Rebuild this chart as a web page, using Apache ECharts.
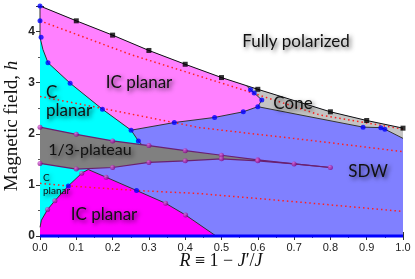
<!DOCTYPE html>
<html><head><meta charset="utf-8">
<script src="https://cdn.jsdelivr.net/npm/echarts@6/dist/echarts.min.js"></script>
<style>html,body{margin:0;padding:0;background:#fff}#c{width:415px;height:279px}</style>
</head><body><div id="c"></div>
<script>
// ---- data ----
const xTickLabels = ['0.0','0.1','0.2','0.3','0.4','0.5','0.6','0.7','0.8','0.9','1.0'];
const yTickLabels = ['0','1','2','3','4'];

// saturation field (boundary to fully polarized)
const saturation = [[0,4.5],[0.1,4.21],[0.2,3.93],[0.3,3.63],[0.4,3.36],[0.5,3.10],[0.6,2.87],[0.8,2.43],[0.9,2.26],[1.0,2.11]];
const saturationPoints = [[0.1,4.21],[0.2,3.93],[0.3,3.63],[0.4,3.36],[0.5,3.10],[0.6,2.87],[0.8,2.43],[0.9,2.26],[1.0,2.11]];

// upper IC planar boundaries
const icUpperTop = [[0,4.5],[0.1,4.21],[0.2,3.93],[0.3,3.63],[0.4,3.36],[0.5,3.10],[0.569,2.94]];
const icConeLine = [[0.569,2.94],[0.58,2.86],[0.59,2.80],[0.611,2.66],[0.60,2.53]];
const icSdwLine = [[0.60,2.53],[0.56,2.43],[0.481,2.32],[0.37,2.22],[0.251,2.07]];
const icCLine = [[0.251,2.07],[0.172,2.48],[0.083,2.99],[0.022,3.39],[0.008,3.65],[0,3.89]];
const cSdwLine = [[0.251,2.07],[0.271,1.86],[0.28,1.79]];
const leftEdgeTop = [[0,4.5],[0,3.89]];

// cone / SDW
const coneSdwLine = [[0.60,2.53],[0.89,2.13],[0.939,2.12],[0.95,2.09],[1.0,1.91]];

// 1/3 plateau
const plateauUpper = [[0,2.13],[0.1,1.99],[0.2,1.86],[0.3,1.77],[0.4,1.67],[0.5,1.58],[0.6,1.49],[0.7,1.41],[0.8,1.34]];
const plateauLower = [[0,1.42],[0.1,1.31],[0.2,1.34],[0.3,1.44],[0.4,1.47],[0.5,1.51],[0.6,1.47],[0.7,1.41],[0.8,1.34]];

// lower IC planar
const icLowerLeft = [[0,0.17],[0.004,0.31],[0.021,0.52],[0.041,0.69],[0.078,0.98],[0.115,1.23],[0.133,1.30]];
const icLowerRight = [[0.133,1.30],[0.182,1.15],[0.266,0.89],[0.346,0.64],[0.401,0.41],[0.485,0]];

// red dotted guide lines
const redUpper = [[0,4.21],[0.25,3.55],[0.55,2.88],[0.77,2.37],[1.0,2.09]];
const redMiddle = [[0,2.73],[0.17,2.50],[0.44,2.12],[0.77,1.85],[1.0,1.65]];
const redLower = [[0,1.03],[0.078,0.98],[0.266,0.89],[0.44,0.83],[0.72,0.66],[1.0,0.48]];

// markers
const bluePoints = [[0,4.5],[0,4.21],[0.003,3.89],[0.022,3.39],[0.083,2.99],[0.172,2.48],[0.251,2.07],[0.271,1.86],[0.37,2.22],[0.481,2.32],[0.56,2.43],[0.60,2.53],[0.611,2.66],[0.59,2.80],[0.58,2.86],[0.89,2.13],[0.939,2.12],[0.95,2.09],[0.078,0.98],[0.266,0.89]];
const purplePoints = [[0,2.13],[0.1,1.99],[0.2,1.86],[0.3,1.77],[0.4,1.67],[0.5,1.58],[0.6,1.49],[0.7,1.41],[0.8,1.34],
  [0,1.42],[0.1,1.31],[0.2,1.34],[0.3,1.44],[0.4,1.47],[0.5,1.51],[0.6,1.47],
  [0.021,0.52],[0.041,0.69],[0.115,1.23],[0.182,1.15],[0.346,0.64],[0.401,0.41]];
const zeroField = [[0,0],[1,0]];

// ---- region polygons built from the boundaries ----
const rev = a => a.slice().reverse();
const sdwRegion = [[0,0],[1,0]].concat(rev(saturation));
const icUpperRegion = icUpperTop.concat(icConeLine.slice(1), icSdwLine.slice(1), icCLine.slice(1));
const coneRegion = [[0.569,2.94]].concat(saturation.filter(p=>p[0]>0.569), rev(coneSdwLine), rev(icConeLine).slice(1));
const cUpperRegion = rev(icCLine).concat(cSdwLine.slice(1), rev(plateauUpper.filter(p=>p[0]<0.28)));
const plateauRegion = plateauUpper.concat(rev(plateauLower));
const cLowerRegion = icLowerLeft.concat([[0.1,1.31],[0,1.42]]);
const icLowerRegion = [[0,0]].concat(icLowerLeft, icLowerRight.slice(1));

const chart = echarts.init(document.getElementById('c'), null, {renderer:'canvas'});

function poly(pts, color, z){
  return {type:'custom', coordinateSystem:'cartesian2d', data:[[0,0]], z, silent:true, clip:true, animation:false,
    renderItem:(params, api)=>({type:'polygon', shape:{points: pts.map(p=>api.coord(p))}, style:{fill:color}})};
}
function line(pts, color, width, z, type){
  return {type:'line', data:pts, showSymbol:false, symbol:'none', silent:true, animation:false, z, clip:false,
    lineStyle:{color, width, type: type||'solid'}};
}
const sphere = {type:'radial', x:0.35, y:0.35, r:0.7, colorStops:[{offset:0,color:'#e070e0'},{offset:1,color:'#800080'}]};

const serif = '"Liberation Serif", "DejaVu Serif", serif';
const lab = 'Lato, "Open Sans", sans-serif';
const shadow = {textShadowColor:'rgba(0,0,0,0.6)', textShadowBlur:4, textShadowOffsetX:2, textShadowOffsetY:2,
                shadowColor:'rgba(0,0,0,0.6)', shadowBlur:4, shadowOffsetX:2, shadowOffsetY:2};
function txt(text, x, y, size, align){
  return {type:'text', x, y, z:100, silent:true, style:Object.assign({text, font:`${size}px ${lab}`, fill:'#111',
    textAlign:align||'center', textVerticalAlign:'middle', align:align||'center', verticalAlign:'middle'}, shadow)};
}

const axisCommon = {
  min:0, splitLine:{show:false},
  axisLine:{show:true, lineStyle:{color:'#333', width:1}},
  axisTick:{show:true, inside:true, length:4, lineStyle:{color:'#333'}},
  minorTick:{show:true, splitNumber:2, length:2, lineStyle:{color:'#555'}}
};

chart.setOption({
  animation:false,
  grid:{left:40, right:12, top:6, bottom:43, containLabel:false},
  xAxis:[
    Object.assign({}, axisCommon, {type:'value', max:1, interval:0.1, position:'bottom',
      axisLabel:{formatter:(v)=>xTickLabels[Math.round(v*10)], fontSize:11, color:'#222', margin:6, fontFamily:'"Liberation Sans", Arial, sans-serif'}}),
    Object.assign({}, axisCommon, {type:'value', max:1, interval:0.1, position:'top', axisLabel:{show:false}})
  ],
  yAxis:[
    Object.assign({}, axisCommon, {type:'value', max:4.5, interval:1, position:'left',
      axisLabel:{formatter:(v)=> (v<=4 && Math.abs(v-Math.round(v))<1e-6) ? yTickLabels[Math.round(v)] : '', showMaxLabel:false, fontSize:12, fontWeight:'bold', color:'#222', margin:5, fontFamily:'"Liberation Sans", Arial, sans-serif'}}),
    Object.assign({}, axisCommon, {type:'value', max:4.5, interval:1, position:'right', axisLabel:{show:false}})
  ],
  series:[
    poly(sdwRegion, '#8080ff', 1),
    poly(icUpperRegion, '#ff80ff', 2),
    poly(coneRegion, '#c4c4c4', 2),
    poly(cUpperRegion, '#00ffff', 2),
    poly(plateauRegion, '#808080', 3),
    poly(cLowerRegion, '#00ffff', 2),
    poly(icLowerRegion, '#ff00ff', 3),
    line(redUpper, '#ff2020', 1.5, 5, [1.5,3]),
    line(redMiddle, '#ff2020', 1.5, 5, [1.5,3]),
    line(redLower, '#ff2020', 1.5, 5, [1.5,3]),
    line(saturation, '#111', 1, 6),
    line(leftEdgeTop, '#333', 1, 6),
    line(icConeLine, '#333', 1, 6),
    line(icSdwLine, '#333', 1, 6),
    line(icCLine, '#333', 1, 6),
    line(cSdwLine, '#333', 1, 6),
    line(coneSdwLine, '#333', 1, 6),
    line(plateauUpper, '#6a2070', 1.2, 6),
    line(plateauLower, '#6a2070', 1.2, 6),
    line(icLowerLeft, '#333', 1, 6),
    line(icLowerRight, '#333', 1, 6),
    line(zeroField, '#0000ff', 3, 7),
    {type:'scatter', data:saturationPoints, symbol:'rect', symbolSize:5, itemStyle:{color:'#000'}, z:8, silent:true, clip:false},
    {type:'scatter', data:bluePoints, symbol:'circle', symbolSize:5, itemStyle:{color:'#0000ff'}, z:8, silent:true, clip:false},
    {type:'scatter', data:purplePoints, symbol:'circle', symbolSize:5, itemStyle:{color:sphere}, z:8, silent:true, clip:false}
  ],
  graphic:[
    txt('Fully polarized', 296, 42, 17),
    txt('IC planar', 139, 83, 17),
    txt('C', 46, 93, 17, 'left'),
    txt('planar', 46, 111, 17, 'left'),
    txt('Cone', 293, 104, 17),
    txt('1/3-plateau', 90, 150, 16),
    txt('SDW', 368, 172, 17),
    txt('C', 43, 178, 10, 'left'),
    txt('planar', 43, 191, 10, 'left'),
    txt('IC planar', 104, 215, 17),
    {type:'text', x:12, y:126, rotation:Math.PI/2, silent:true, z:100,
      style:{text:'Magnetic field, {i|h}', font:`19px ${serif}`, fill:'#111', textAlign:'center', textVerticalAlign:'middle', align:'center', verticalAlign:'middle',
        rich:{i:{fontStyle:'italic', fontFamily:serif, fontSize:19}}}},
    {type:'text', x:221, y:261, silent:true, z:100,
      style:{text:'{i|R} ≡ 1 − {i|J}′/{i|J}', font:`18px ${serif}`, fill:'#111', textAlign:'center', textVerticalAlign:'middle', align:'center', verticalAlign:'middle',
        rich:{i:{fontStyle:'italic', fontFamily:serif, fontSize:18}}}}
  ]
});
</script></body></html>
